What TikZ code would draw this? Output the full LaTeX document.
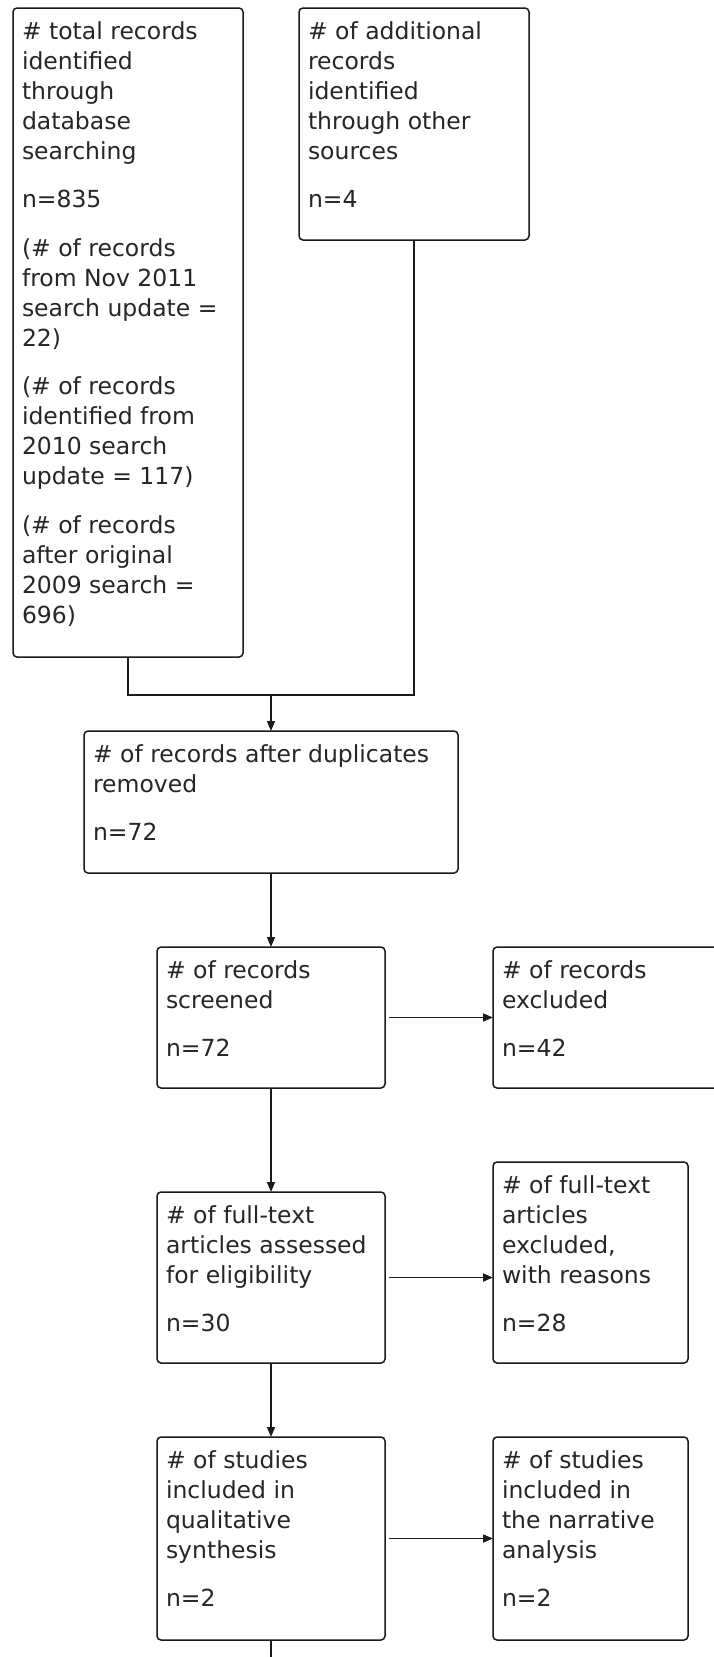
\documentclass[tikz,border=0pt]{standalone}
\usepackage{fontspec}
\setmainfont{DejaVu Sans}
\usetikzlibrary{arrows.meta}
\definecolor{ink}{HTML}{1A1A1A}
\definecolor{txt}{HTML}{262626}
\begin{document}
\begin{tikzpicture}[x=1pt,y=-1pt,
  box/.style={draw=ink, line width=1.5pt, rounded corners=4pt, inner sep=0pt, outer sep=0pt},
  txtnode/.style={anchor=north west, inner sep=0pt, outer sep=0pt, align=left, text=txt,
                  font=\fontsize{23.5}{30}\selectfont},
  conn/.style={draw=ink, line width=1.6pt},
  arr/.style={conn, -{Triangle[length=10pt,width=8pt]}}]
\fill[white] (0,0) rectangle (713,1657);
\useasboundingbox (0,0) rectangle (713,1657);

% boxes
\node[box, minimum width=230pt, minimum height=649pt] (B1) at (128,332.5) {};
\node[box, minimum width=230pt, minimum height=232pt] (B2) at (414,124) {};
\node[box, minimum width=374pt, minimum height=142pt] (B3) at (271,802) {};
\node[box, minimum width=228pt, minimum height=141pt] (B4) at (271,1017.5) {};
\node[box, minimum width=230pt, minimum height=141pt] (B5) at (608,1017.5) {};
\node[box, minimum width=228pt, minimum height=171pt] (B6) at (271,1277.5) {};
\node[box, minimum width=195pt, minimum height=201pt] (B7) at (590.5,1262.5) {};
\node[box, minimum width=228pt, minimum height=203pt] (B8) at (271,1538.5) {};
\node[box, minimum width=195pt, minimum height=203pt] (B9) at (590.5,1538.5) {};

% texts
\node[txtnode] (T1) at ([shift={(9,10)}]B1.north west)
  {\strut\# total records\\identified\\through\\database\\searching\\[18.5pt]
   n=835\\[18.5pt]
   (\# of records\\from Nov 2011\\search update =\\22)\\[18.5pt]
   (\# of records\\identified from\\2010 search\\update = 117)\\[18.5pt]
   (\# of records\\after original\\2009 search =\\696)};
\node[txtnode] (T2) at ([shift={(9,10)}]B2.north west)
  {\strut\# of additional\\records\\identified\\through other\\sources\\[18.5pt]n=4};
\node[txtnode] (T3) at ([shift={(9,10)}]B3.north west)
  {\strut\# of records after duplicates\\removed\\[18.5pt]n=72};
\node[txtnode] (T4) at ([shift={(9,10)}]B4.north west)
  {\strut\# of records\\screened\\[18.5pt]n=72};
\node[txtnode] (T5) at ([shift={(9,10)}]B5.north west)
  {\strut\# of records\\excluded\\[18.5pt]n=42};
\node[txtnode] (T6) at ([shift={(9,10)}]B6.north west)
  {\strut\# of full-text\\articles assessed\\for eligibility\\[18.5pt]n=30};
\node[txtnode] (T7) at ([shift={(9,10)}]B7.north west)
  {\strut\# of full-text\\articles\\excluded,\\with reasons\\[18.5pt]n=28};
\node[txtnode] (T8) at ([shift={(9,10)}]B8.north west)
  {\strut\# of studies\\included in\\qualitative\\synthesis\\[18.5pt]n=2};
\node[txtnode] (T9) at ([shift={(9,10)}]B9.north west)
  {\strut\# of studies\\included in\\the narrative\\analysis\\[18.5pt]n=2};

% connectors
\coordinate (J) at (271,695);
\coordinate (E) at (271,1665);
\draw[conn] (B1.south) |- (J) -| (B2.south);
\draw[arr] (J) -- (B3.north);
\draw[arr] (B3.south) -- (B4.north);
\draw[arr] (B4.south) -- (B6.north);
\draw[arr] (B6.south) -- (B8.north);
\draw[conn] (B8.south) -- (E);
\draw[arr] ([xshift=4pt]B4.east) -- (B4.east -| B5.west);
\draw[arr] ([xshift=4pt]B6.east) -- (B6.east -| B7.west);
\draw[arr] ([xshift=4pt]B8.east) -- (B8.east -| B9.west);
\end{tikzpicture}
\end{document}
